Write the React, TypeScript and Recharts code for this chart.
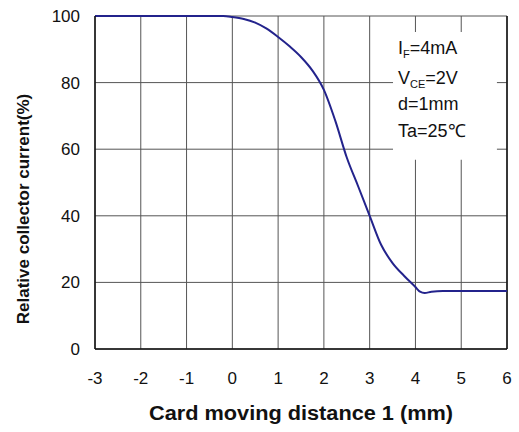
import React from "react";
import {
  LineChart,
  Line,
  XAxis,
  YAxis,
  CartesianGrid,
  ReferenceArea,
  ReferenceLine,
} from "recharts";

// values
const distance = [-3, -2, -1, -0.5, -0.2, 0, 0.25, 0.5, 0.75, 1, 1.25, 1.5, 1.75, 2, 2.25, 2.5, 2.75, 3, 3.25, 3.5, 3.75, 4, 4.1, 4.2, 4.35, 4.6, 5, 6];
const current = [100, 100, 100, 100, 100, 99.7, 99.1, 98, 96.2, 93.7, 90.9, 87.7, 83.6, 77.8, 68.5, 57.5, 48.8, 40, 31.3, 25.8, 22, 18.6, 17.2, 16.8, 17.2, 17.4, 17.4, 17.4];

const xTicks = [-3, -2, -1, 0, 1, 2, 3, 4, 5, 6];
const yTicks = [0, 20, 40, 60, 80, 100];

const data = distance.map((d, i) => ({ d, v: current[i] }));

const FONT = '"Liberation Sans", Arial, sans-serif';

const NoteBox = (props: any) => {
  const { x, y } = props.viewBox;
  const left = x + 5;
  const st = { fontFamily: FONT, fontSize: 18, fill: "#111" };
  return (
    <g>
      <text x={left} y={y + 22} {...st}>
        I<tspan fontSize={11} dy={4}>F</tspan>
        <tspan dy={-4}>=4mA</tspan>
      </text>
      <text x={left} y={y + 52} {...st}>
        V<tspan fontSize={11} dy={4}>CE</tspan>
        <tspan dy={-4}>=2V</tspan>
      </text>
      <text x={left} y={y + 78} {...st}>
        d=1mm
      </text>
      <text x={left} y={y + 105} {...st}>
        Ta=25℃
      </text>
    </g>
  );
};

const XTitle = (props: any) => {
  const { x, width } = props.viewBox;
  return (
    <text
      x={x + width / 2}
      y={420}
      textAnchor="middle"
      fontFamily={FONT}
      fontWeight="bold"
      fontSize={20}
      textLength={304}
      lengthAdjust="spacingAndGlyphs"
      fill="#111"
    >
      Card moving distance 1 (mm)
    </text>
  );
};

const YTitle = () => (
  <text
    x={0}
    y={0}
    transform="translate(29, 209) rotate(-90)"
    textAnchor="middle"
    fontFamily={FONT}
    fontWeight="bold"
    fontSize={17}
    fill="#111"
  >
    Relative collector current(%)
  </text>
);

export default function App() {
  return (
    <div style={{ position: "absolute", left: 0, top: 0, background: "#fff" }}>
      <LineChart
        width={519}
        height={432}
        data={data}
        margin={{ top: 16, right: 12, bottom: 0, left: 0 }}
      >
        <CartesianGrid stroke="#555" strokeWidth={1} />
        <XAxis
          type="number"
          dataKey="d"
          domain={[-3, 6]}
          ticks={xTicks}
          tickLine={false}
          axisLine={{ stroke: "#111", strokeWidth: 1.5 }}
          tickMargin={17}
          height={83}
          tick={{ fontFamily: FONT, fontSize: 17, fill: "#111" }}
          label={<XTitle />}
        />
        <YAxis
          type="number"
          domain={[0, 100]}
          ticks={yTicks}
          tickLine={false}
          axisLine={{ stroke: "#111", strokeWidth: 1.5 }}
          tickMargin={9}
          width={95}
          tick={{ fontFamily: FONT, fontSize: 17, fill: "#111" }}
          label={<YTitle />}
        />
        <ReferenceLine x={6} stroke="#111" strokeWidth={1.5} />
        <ReferenceArea
          x1={3.51}
          x2={5.78}
          y1={56.8}
          y2={95.2}
          fill="#fff"
          fillOpacity={1}
          stroke="none"
          label={<NoteBox />}
        />
        <Line
          type="monotone"
          dataKey="v"
          stroke="#23238c"
          strokeWidth={2}
          dot={false}
          isAnimationActive={false}
        />
      </LineChart>
    </div>
  );
}
